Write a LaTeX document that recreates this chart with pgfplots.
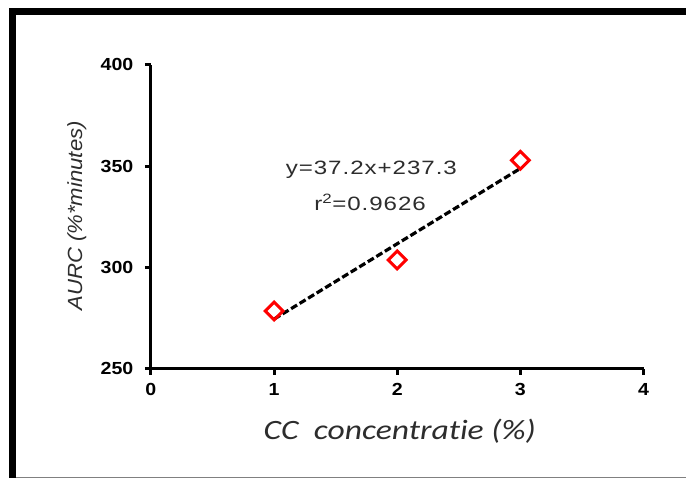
\documentclass[border=0pt]{standalone}
\usepackage{fontspec}
\setmainfont{Liberation Sans}
\newfontfamily\tickfont[FakeStretch=1.12]{Liberation Sans}
\newfontfamily\annfont[FakeStretch=1.25,LetterSpace=5]{Liberation Sans}
\newfontfamily\xlabfont[FakeStretch=1.2,Ligatures=NoCommon]{Carlito}
\newfontfamily\ylabfont[FakeStretch=1.08]{Liberation Sans}
\usepackage{pgfplots}
\pgfplotsset{compat=1.18}
\definecolor{labelgray}{RGB}{45,45,45}

\begin{document}
\begin{tikzpicture}
  % frame of the original screenshot
  \fill[white] (0pt,0pt) rectangle (686pt,478pt);
  \fill[black] (9pt,463pt) rectangle (686pt,470pt);
  \fill[black] (9pt,0pt) rectangle (16pt,470pt);
  \draw[gray,line width=1pt] (16pt,0.5pt) -- (686pt,0.5pt);

  \begin{axis}[
      at={(151pt,109pt)}, anchor=south west,
      scale only axis,
      width=493pt, height=304pt,
      xmin=0, xmax=4, ymin=250, ymax=400,
      xtick={0,1,2,3,4},
      ytick={250,300,350,400},
      axis lines=left,
      axis line style={-, line width=3pt},
      tick style={line width=3pt, black},
      major tick length=6pt,
      tick align=outside,
      /pgf/number format/assume math mode=true,
      ticklabel style={font=\tickfont\bfseries\fontsize{17.5}{20}\selectfont},
      yticklabel style={xshift=-8pt},
      xticklabel style={yshift=-5pt},
      clip=false,
    ]
    % linear fit y = 37.2x + 237.3
    \addplot[black, line width=3.2pt, dash pattern=on 7pt off 3pt] coordinates {
      (1,274.5) (3,348.9)
    };
    \addplot[only marks, mark=square, mark size=6.3pt,
      mark options={rotate=45, draw=red, fill=white, line width=3pt, solid}]
      coordinates {
      (1,278.5)
      (2,303.7)
      (3,352.9)
    };
    \node[anchor=base, text=labelgray, font=\annfont\fontsize{19.3}{22}\selectfont]
      at (axis cs:1.79,345.7) {y=37.2x+237.3};
    \node[anchor=base, text=labelgray, font=\annfont\fontsize{19.3}{22}\selectfont]
      at (axis cs:1.78,328.0) {r\textsuperscript{2}=0.9626};
  \end{axis}

  \node[anchor=base, text=labelgray, font=\xlabfont\itshape\fontsize{28}{32}\selectfont]
    at (400pt,38pt) {CC\ \ concentratie (\%)};
  \node[rotate=90, text=labelgray, font=\ylabfont\itshape\fontsize{20.5}{24}\selectfont]
    at (77pt,262pt) {AURC (\%*minutes)};
\end{tikzpicture}
\end{document}
